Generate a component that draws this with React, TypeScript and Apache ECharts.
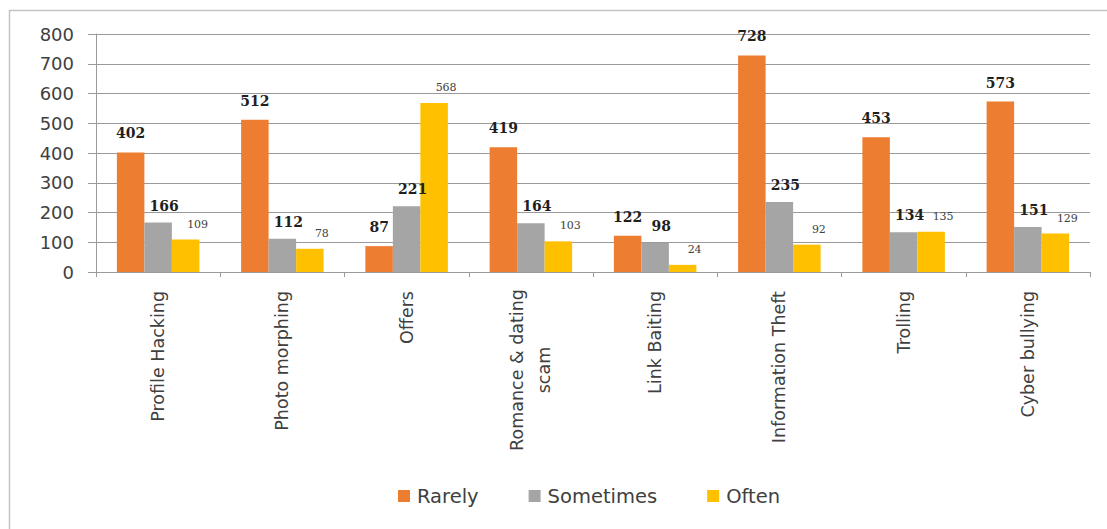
import React, { useEffect, useRef } from "react";
import * as echarts from "echarts";

const categories = [
  "Profile Hacking",
  "Photo morphing",
  "Offers",
  "Romance & dating\nscam",
  "Link Baiting",
  "Information Theft",
  "Trolling",
  "Cyber bullying",
];
const rarely = [402, 512, 87, 419, 122, 728, 453, 573];
const sometimes = [166, 112, 221, 164, 98, 235, 134, 151];
const often = [109, 78, 568, 103, 24, 92, 135, 129];
const yTicks = { min: 0, max: 800, interval: 100 };

const SANS = "DejaVu Sans";
const SERIF = "DejaVu Serif";

export default function App() {
  const ref = useRef<HTMLDivElement>(null);

  useEffect(() => {
    if (!ref.current) return;
    const chart = echarts.init(ref.current, null, { renderer: "svg" });

    const bigLabel = {
      show: true,
      position: "top",
      distance: 12,
      fontFamily: SERIF,
      fontWeight: "bold",
      fontSize: 14,
      color: "#1f1f1f",
    };

    const catFont = { fontFamily: SANS, fontSize: 17.5, color: "#404040" };

    chart.setOption({
      animation: false,
      backgroundColor: "#ffffff",
      graphic: [
        {
          type: "rect",
          shape: { x: 9.5, y: 10.5, width: 1200, height: 600 },
          style: { fill: "none", stroke: "#c4c4c4", lineWidth: 1.5 },
          silent: true,
        },
      ],
      grid: { left: 96, right: 17, top: 34, bottom: 257, containLabel: false },
      legend: {
        left: 393,
        top: 481,
        itemWidth: 12,
        itemHeight: 12,
        itemGap: 50,
        icon: "rect",
        textStyle: { fontFamily: SANS, fontSize: 19.5, color: "#404040", padding: [0, 0, 0, 2] },
        data: ["Rarely", "Sometimes", "Often"],
      },
      xAxis: {
        type: "category",
        data: categories,
        axisLine: { show: true, lineStyle: { color: "#9a9a9a", width: 1 } },
        axisTick: { show: true, alignWithLabel: false, length: 5, lineStyle: { color: "#9a9a9a" } },
        axisLabel: {
          rotate: 90,
          margin: 19,
          interval: 0,
          ...catFont,
          lineHeight: 27,
          align: "right",
          // wrapped names keep their lines centred on each other
          formatter: (v: string) =>
            v.includes("\n")
              ? v
                  .split("\n")
                  .map((line) => `{c|${line}}`)
                  .join("\n")
              : v,
          rich: {
            c: { ...catFont, width: 158, align: "center", lineHeight: 27 },
          },
        },
        splitLine: { show: false },
      },
      yAxis: {
        type: "value",
        min: yTicks.min,
        max: yTicks.max,
        interval: yTicks.interval,
        axisLine: { show: true, lineStyle: { color: "#9a9a9a", width: 1 } },
        axisTick: { show: true, length: 8, lineStyle: { color: "#9a9a9a" } },
        axisLabel: { margin: 22, fontFamily: SANS, fontSize: 18, color: "#404040" },
        splitLine: { show: true, lineStyle: { color: "#9a9a9a", width: 1 } },
      },
      series: [
        {
          name: "Rarely",
          type: "bar",
          data: rarely,
          barGap: "0%",
          barCategoryGap: "33.6%",
          itemStyle: { color: "#ED7D31" },
          label: { ...bigLabel },
        },
        {
          name: "Sometimes",
          type: "bar",
          data: sometimes,
          barGap: "0%",
          barCategoryGap: "33.6%",
          itemStyle: { color: "#A5A5A5" },
          label: { ...bigLabel, distance: 10, offset: [6, 0] },
        },
        {
          name: "Often",
          type: "bar",
          data: often,
          barGap: "0%",
          barCategoryGap: "33.6%",
          itemStyle: { color: "#FFC000" },
          label: {
            show: true,
            position: "top",
            distance: 10,
            offset: [12, 0],
            fontFamily: SERIF,
            fontSize: 11,
            color: "#404040",
          },
        },
      ],
    });

    return () => chart.dispose();
  }, []);

  return (
    <div
      ref={ref}
      style={{ position: "fixed", left: 0, top: 0, width: 1107, height: 529 }}
    />
  );
}
